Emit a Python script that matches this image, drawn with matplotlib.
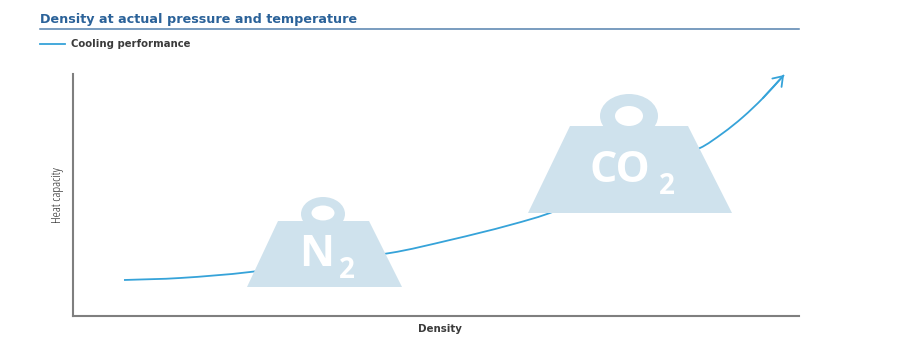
import matplotlib
matplotlib.use("Agg")
import matplotlib.pyplot as plt
from matplotlib.patches import Polygon, Ellipse
from matplotlib.path import Path
from matplotlib.patches import PathPatch, FancyArrowPatch

W, H = 917, 355
title = "Density at actual pressure and temperature"
legend_label = "Cooling performance"
xlabel = "Density"
ylabel = "Heat capacity"

# Curve values (arbitrary units)
density = [51, 107, 177, 317, 377, 437, 482, 627, 650, 670, 690, 711]
heat_capacity = [36, 38, 44, 63, 76, 91, 105, 168, 183, 199, 218, 241]

BLUE = "#36a3d9"
NAVY = "#2b6299"
WEIGHT = "#cfe2ed"
GREY = "#7f7f7f"
DARK = "#3b3b3b"

fig = plt.figure(figsize=(W/100, H/100), dpi=100, facecolor="white")
L, R, T, B = 73, 799, 74, 316
ax = fig.add_axes([L/W, 1-B/H, (R-L)/W, (B-T)/H])
ax.set_xlim(0, R-L)
ax.set_ylim(0, B-T)
ax.set_xticks([]); ax.set_yticks([])
for s in ("top", "right"):
    ax.spines[s].set_visible(False)
for s in ("left", "bottom"):
    ax.spines[s].set_color(GREY)
    ax.spines[s].set_linewidth(1.5)

# smooth curve through the read points (tangents scaled by segment length)
pts = list(zip(density, heat_capacity))
n = len(pts)
slopes = []
for i in range(n):
    a = pts[max(i-1, 0)]; b = pts[min(i+1, n-1)]
    slopes.append((b[1]-a[1])/(b[0]-a[0]))
verts = [pts[0]]; codes = [Path.MOVETO]
for i in range(n-1):
    p1 = pts[i]; p2 = pts[i+1]
    d = (p2[0]-p1[0])/3
    verts += [(p1[0]+d, p1[1]+d*slopes[i]), (p2[0]-d, p2[1]-d*slopes[i+1]), p2]
    codes += [Path.CURVE4]*3
ax.add_patch(PathPatch(Path(verts, codes), fill=False, ec=BLUE, lw=1.3, zorder=2, capstyle="butt"))
ax.add_patch(FancyArrowPatch(pts[-2], pts[-1], arrowstyle="->,head_length=4,head_width=2.8",
                             color=BLUE, lw=1.3, zorder=2, shrinkA=0, shrinkB=0, mutation_scale=1.6))

def weight(bx0, bx1, tx0, tx1, by, ty, rx, ry_c, orx, ory, hrx, hry, hy):
    ax.add_patch(Ellipse((rx, ry_c), 2*orx, 2*ory, fc=WEIGHT, ec="none", zorder=3))
    ax.add_patch(Polygon([(bx0, by), (bx1, by), (tx1, ty), (tx0, ty)], fc=WEIGHT, ec="none", zorder=3))
    ax.add_patch(Ellipse((rx, hy), 2*hrx, 2*hry, fc="white", ec="none", zorder=4))

weight(174, 329, 205, 296, 29, 95, 250, 102, 22, 17, 11.5, 7.5, 103)
weight(455, 659, 497, 615, 103, 190, 556, 200, 29, 22, 14, 10, 200)

ax.text(244, 62, "N", color="white", fontsize=31, family="Open Sans", fontweight="bold",
        ha="center", va="center", zorder=5)
ax.text(274, 45, "2", color="white", fontsize=20, family="Open Sans", fontweight="bold",
        ha="center", va="center", zorder=5)
ax.text(547, 146, "CO", color="white", fontsize=31, family="Open Sans", fontweight="bold",
        ha="center", va="center", zorder=5)
ax.text(594, 130, "2", color="white", fontsize=20, family="Open Sans", fontweight="bold",
        ha="center", va="center", zorder=5)

fig.text(40/W, 1-20/H, title, color=NAVY, fontsize=9.15, family="DejaVu Sans", fontweight="bold", va="center")
fig.add_artist(plt.Line2D([40/W, 799/W], [1-29/H, 1-29/H], color=NAVY, lw=1.1, alpha=0.8))
fig.add_artist(plt.Line2D([40/W, 65/W], [1-44/H, 1-44/H], color=BLUE, lw=1.3))
fig.text(71/W, 1-44/H, legend_label, color=DARK, fontsize=7.3, family="DejaVu Sans", fontweight="bold", va="center")
fig.text(440/W, 1-329/H, xlabel, color=DARK, fontsize=7.4, family="DejaVu Sans", fontweight="bold", ha="center", va="center")
fig.text(57/W, 1-195/H, ylabel, color="#222222", fontsize=9.5, family="Open Sans", stretch="condensed",
         rotation=90, ha="center", va="center")

fig.savefig("out.png", dpi=100)
